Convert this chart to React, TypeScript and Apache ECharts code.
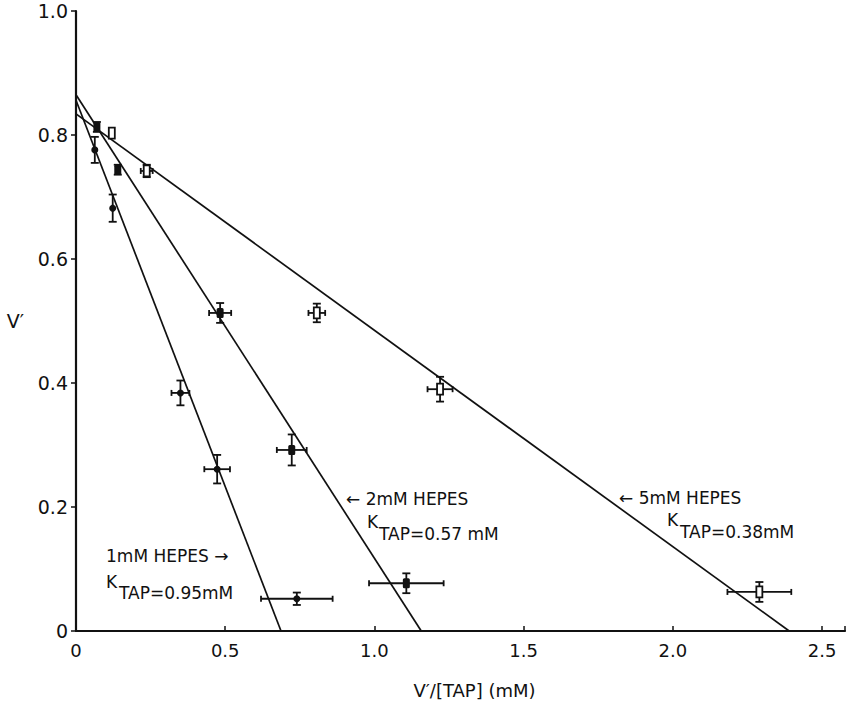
import React, { useEffect, useRef } from 'react';
import * as echarts from 'echarts';

// ---- Data ----
const xTickValues = [0, 0.5, 1.0, 1.5, 2.0, 2.5];
const yTickValues = [0, 0.2, 0.4, 0.6, 0.8, 1.0];

const seriesNames = ['1mM HEPES', '2mM HEPES', '5mM HEPES'];
const kTapLabels = ['0.95', '0.57', '0.38'];

// 1 mM HEPES (filled circles)
const hepes1X = [0.063, 0.123, 0.35, 0.473, 0.74];
const hepes1Y = [0.776, 0.682, 0.384, 0.261, 0.052];
const hepes1XErr = [0, 0, 0.03, 0.043, 0.12];
const hepes1YErr = [0.021, 0.022, 0.02, 0.023, 0.01];

// 2 mM HEPES (filled squares)
const hepes2X = [0.07, 0.14, 0.483, 0.723, 1.107];
const hepes2Y = [0.813, 0.744, 0.513, 0.292, 0.077];
const hepes2XErr = [0, 0, 0.037, 0.05, 0.125];
const hepes2YErr = [0.008, 0.008, 0.016, 0.025, 0.016];

// 5 mM HEPES (open squares)
const hepes5X = [0.12, 0.237, 0.807, 1.22, 2.29];
const hepes5Y = [0.803, 0.742, 0.513, 0.39, 0.063];
const hepes5XErr = [0, 0.02, 0.028, 0.042, 0.107];
const hepes5YErr = [0, 0.01, 0.015, 0.02, 0.016];

// Fitted Eadie–Hofstee lines: y-intercept and x-intercept
const fitYIntercepts = [0.856, 0.865, 0.834];
const fitXIntercepts = [0.687, 1.157, 2.39];

const INK = '#111';
const FONT = 'DejaVu Sans, Arial, sans-serif';

type Kind = 'dot' | 'filledSquare' | 'openSquare';

function errorSeries(
  name: string,
  xs: number[],
  ys: number[],
  exs: number[],
  eys: number[],
  kind: Kind
) {
  return {
    type: 'custom',
    name,
    clip: false,
    z: 5,
    encode: { x: 0, y: 1 },
    data: xs.map((x, i) => [x, ys[i], exs[i], eys[i]]),
    renderItem: (_params: any, api: any) => {
      const x = api.value(0) as number;
      const y = api.value(1) as number;
      const ex = api.value(2) as number;
      const ey = api.value(3) as number;
      const c = api.coord([x, y]);
      const st = { stroke: INK, lineWidth: 1.8 };
      const children: any[] = [];
      if (ex > 0) {
        const l = api.coord([x - ex, y]);
        const r = api.coord([x + ex, y]);
        children.push({ type: 'line', shape: { x1: l[0], y1: l[1], x2: r[0], y2: r[1] }, style: st });
        children.push({ type: 'line', shape: { x1: l[0], y1: l[1] - 3, x2: l[0], y2: l[1] + 3 }, style: st });
        children.push({ type: 'line', shape: { x1: r[0], y1: r[1] - 3, x2: r[0], y2: r[1] + 3 }, style: st });
      }
      if (ey > 0) {
        const t = api.coord([x, y + ey]);
        const b = api.coord([x, y - ey]);
        children.push({ type: 'line', shape: { x1: t[0], y1: t[1], x2: b[0], y2: b[1] }, style: st });
        children.push({ type: 'line', shape: { x1: t[0] - 4, y1: t[1], x2: t[0] + 4, y2: t[1] }, style: st });
        children.push({ type: 'line', shape: { x1: b[0] - 4, y1: b[1], x2: b[0] + 4, y2: b[1] }, style: st });
      }
      if (kind === 'dot') {
        children.push({ type: 'circle', shape: { cx: c[0], cy: c[1], r: 3.5 }, style: { fill: INK } });
      } else if (kind === 'filledSquare') {
        children.push({
          type: 'rect',
          shape: { x: c[0] - 3.5, y: c[1] - 5, width: 7, height: 10, r: 1.5 },
          style: { fill: INK },
        });
      } else {
        children.push({
          type: 'rect',
          shape: { x: c[0] - 3, y: c[1] - 5.5, width: 6, height: 11 },
          style: { fill: '#fff', stroke: INK, lineWidth: 1.8 },
        });
      }
      return { type: 'group', children };
    },
  };
}

function fitSeries(name: string, i: number) {
  return {
    type: 'line',
    name: name + ' fit',
    data: [
      [0, fitYIntercepts[i]],
      [fitXIntercepts[i], 0],
    ],
    symbol: 'none',
    silent: true,
    z: 3,
    lineStyle: { color: INK, width: 1.7 },
  };
}

function txt(text: string, x: number, y: number, size = 17) {
  return {
    type: 'text',
    x,
    y,
    silent: true,
    style: {
      text,
      fill: INK,
      fontFamily: FONT,
      fontSize: size,
      align: 'left',
      verticalAlign: 'middle',
    },
  };
}

const fmt = (v: number, ticks: number[]) => {
  if (!ticks.some((t) => Math.abs(t - v) < 1e-6)) return '';
  return v === 0 ? '0' : v.toFixed(1);
};

export default function App() {
  const ref = useRef<HTMLDivElement>(null);

  useEffect(() => {
    document.body.style.margin = '0';
    if (!ref.current) return;
    const chart = echarts.init(ref.current, undefined, { renderer: 'svg' });

    const option: any = {
      animation: false,
      backgroundColor: '#fff',
      grid: { left: 76, top: 11, width: 773, height: 620 },
      xAxis: {
        type: 'value',
        min: 0,
        max: 2.577,
        interval: 0.5,
        name: 'V′/[TAP] (mM)',
        nameLocation: 'middle',
        nameGap: 50,
        nameTextStyle: { fontFamily: FONT, fontSize: 18, color: INK, padding: [0, 0, 0, 28] },
        axisLine: { lineStyle: { color: INK, width: 2.2 } },
        axisTick: { inside: true, length: 5, lineStyle: { color: INK, width: 1.5 } },
        axisLabel: {
          margin: 10,
          fontFamily: FONT,
          fontSize: 18,
          color: INK,
          formatter: (v: number) => fmt(v, xTickValues),
        },
        splitLine: { show: false },
      },
      yAxis: {
        type: 'value',
        min: 0,
        max: 1.0,
        interval: 0.2,
        name: 'V′',
        nameLocation: 'middle',
        nameRotate: 0,
        nameGap: 52,
        nameTextStyle: { fontFamily: FONT, fontSize: 19, color: INK, padding: [72, 0, 0, 0] },
        axisLine: { lineStyle: { color: INK, width: 2.2 } },
        axisTick: { inside: false, length: 5, lineStyle: { color: INK, width: 1.5 } },
        axisLabel: {
          margin: 8,
          fontFamily: FONT,
          fontSize: 19,
          color: INK,
          formatter: (v: number) => fmt(v, yTickValues),
        },
        splitLine: { show: false },
      },
      series: [
        fitSeries(seriesNames[0], 0),
        fitSeries(seriesNames[1], 1),
        fitSeries(seriesNames[2], 2),
        errorSeries(seriesNames[0], hepes1X, hepes1Y, hepes1XErr, hepes1YErr, 'dot'),
        errorSeries(seriesNames[1], hepes2X, hepes2Y, hepes2XErr, hepes2YErr, 'filledSquare'),
        errorSeries(seriesNames[2], hepes5X, hepes5Y, hepes5XErr, hepes5YErr, 'openSquare'),
      ],
      graphic: [
        // 1 mM
        txt(seriesNames[0] + ' →', 106, 556),
        txt('K', 106, 582),
        txt('TAP=' + kTapLabels[0] + 'mM', 119, 593),
        // 2 mM
        txt('← ' + seriesNames[1], 346, 499),
        txt('K', 367, 522),
        txt('TAP=' + kTapLabels[1] + ' mM', 379, 534),
        // 5 mM
        txt('← ' + seriesNames[2], 619, 498),
        txt('K', 667, 520),
        txt('TAP=' + kTapLabels[2] + 'mM', 680, 532),
      ],
    };

    chart.setOption(option);
    return () => chart.dispose();
  }, []);

  return (
    <div
      ref={ref}
      style={{ position: 'fixed', left: 0, top: 0, width: 848, height: 713, background: '#fff' }}
    />
  );
}
